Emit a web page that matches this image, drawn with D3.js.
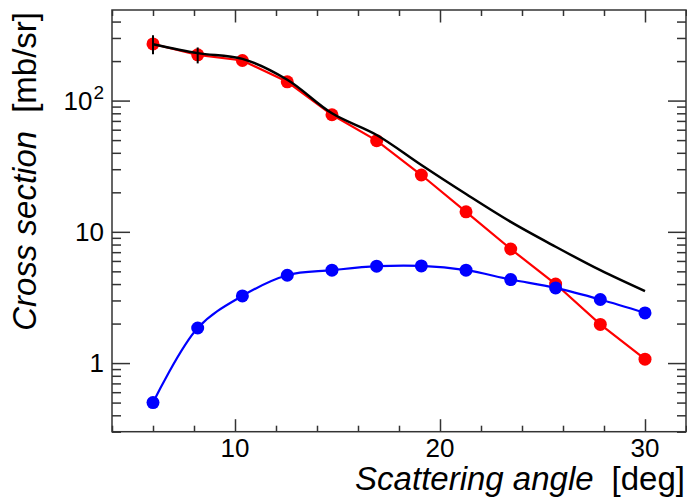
<!DOCTYPE html>
<html>
<head>
  <meta charset="utf-8">
  <script src="https://d3js.org/d3.v7.min.js"></script>
  <style>
    body { margin: 0; background: white; }
    text { font-family: "Liberation Sans", Arial, sans-serif; fill: #000; }
  </style>
</head>
<body>
  <div id="chart"></div>
<script>
  // scattering angle of every measured point [deg]
  var angle = [6.0, 8.18, 10.36, 12.55, 14.73, 16.91, 19.09, 21.27, 23.45, 25.64, 27.82, 30.0];
  // red series (with error bars on the first points)
  var redVal = [270, 223, 202, 139, 78, 49.5, 27.1, 14.2, 7.4, 4.0, 1.97, 1.07];
  var redErr = [45, 31, 0, 0, 0, 0, 0, 0, 0, 0, 0, 0];
  // blue series
  var blueVal = [0.50, 1.85, 3.25, 4.67, 5.10, 5.47, 5.50, 5.10, 4.33, 3.74, 3.05, 2.41];
  // black calculation curve
  var blackVal = [269, 230, 208, 144, 80, 54.7, 32.3, 19.4, 11.9, 7.7, 5.1, 3.53];

  var xMajor = [10, 20, 30];
  var xLabels = ["10", "20", "30"];
  var xMinor = [4, 6, 8, 12, 14, 16, 18, 22, 24, 26, 28, 32];
  var yMajor = [1, 10, 100];
  var yLabels = ["1", "10", "10^2"];
  var yMinor = [0.3, 0.4, 0.5, 0.6, 0.7, 0.8, 0.9, 2, 3, 4, 5, 6, 7, 8, 9,
                20, 30, 40, 50, 60, 70, 80, 90, 200, 300, 400];

  var W = 687, H = 502;
  var pLeft = 112, pRight = 686, pTop = 10, pBottom = 431.7;

  var svg = d3.select("#chart").append("svg")
    .attr("width", W)
    .attr("height", H);

  var x = d3.scaleLinear().domain([4, 32]).range([pLeft, pRight]);
  var y = d3.scaleLog().domain([0.3, 490]).range([pBottom, pTop]);

  var axisColor = "#333";

  // ticks on all four sides, pointing inwards
  function tickAxis(axis, t) {
    var g = svg.append("g").attr("transform", t).call(axis);
    g.select(".domain").remove();
    g.selectAll("line").attr("stroke", axisColor).attr("stroke-width", 1.5);
    g.selectAll("text").remove();
    return g;
  }
  tickAxis(d3.axisBottom(x).tickValues(xMajor).tickSize(-12.5), "translate(0," + pBottom + ")");
  tickAxis(d3.axisBottom(x).tickValues(xMinor).tickSize(-6), "translate(0," + pBottom + ")");
  tickAxis(d3.axisTop(x).tickValues(xMajor).tickSize(-12.5), "translate(0," + pTop + ")");
  tickAxis(d3.axisTop(x).tickValues(xMinor).tickSize(-6), "translate(0," + pTop + ")");
  tickAxis(d3.axisLeft(y).tickValues(yMajor).tickSize(-18), "translate(" + pLeft + ",0)");
  tickAxis(d3.axisLeft(y).tickValues(yMinor).tickSize(-9), "translate(" + pLeft + ",0)");
  tickAxis(d3.axisRight(y).tickValues(yMajor).tickSize(-18), "translate(" + pRight + ",0)");
  tickAxis(d3.axisRight(y).tickValues(yMinor).tickSize(-9), "translate(" + pRight + ",0)");

  // frame
  svg.append("rect")
    .attr("x", pLeft).attr("y", pTop)
    .attr("width", pRight - pLeft).attr("height", pBottom - pTop)
    .attr("fill", "none")
    .attr("stroke", axisColor)
    .attr("stroke-width", 1.5);

  // tick labels
  svg.selectAll(".xlab")
    .data(xMajor)
    .enter().append("text")
      .attr("class", "xlab")
      .attr("x", function(d) { return x(d); })
      .attr("y", 456.5)
      .attr("text-anchor", "middle")
      .style("font-size", "26px")
      .text(function(d, i) { return xLabels[i]; });

  yMajor.forEach(function(v, i) {
    var t = svg.append("text")
      .attr("x", 104)
      .attr("y", y(v) + 9.3)
      .attr("text-anchor", "end")
      .style("font-size", "26px");
    var parts = yLabels[i].split("^");
    t.append("tspan").text(parts[0]);
    if (parts[1]) {
      t.append("tspan").attr("dx", 1).attr("dy", -11).style("font-size", "19px").text(parts[1]);
    }
  });

  // axis titles
  var xt = svg.append("text")
    .attr("x", 685)
    .attr("y", 490)
    .attr("text-anchor", "end")
    .style("font-size", "33px");
  xt.append("tspan").style("font-style", "italic").text("Scattering angle");
  xt.append("tspan").attr("dx", 18).text("[deg]");

  var yt = svg.append("text")
    .attr("transform", "translate(36,12) rotate(-90)")
    .attr("text-anchor", "end")
    .style("font-size", "33px");
  yt.append("tspan").style("font-style", "italic").text("Cross section");
  yt.append("tspan").attr("dx", 18).text("[mb/sr]");

  var plot = svg.append("g");

  function series(vals, color, curve) {
    var line = d3.line()
      .x(function(d, i) { return x(angle[i]); })
      .y(function(d) { return y(d); })
      .curve(curve);
    plot.append("path")
      .datum(vals)
      .attr("d", line)
      .attr("fill", "none")
      .attr("stroke", color)
      .attr("stroke-width", 2.2);
    plot.append("g").selectAll("circle")
      .data(vals)
      .enter().append("circle")
        .attr("cx", function(d, i) { return x(angle[i]); })
        .attr("cy", function(d) { return y(d); })
        .attr("r", 6.5)
        .attr("fill", color);
  }

  series(redVal, "#ff0000", d3.curveLinear);

  // error bars of the red points
  plot.append("g").selectAll("line")
    .data(redVal.map(function(v, i) { return {v: v, e: redErr[i], a: angle[i]}; })
      .filter(function(d) { return d.e > 0; }))
    .enter().append("line")
      .attr("x1", function(d) { return x(d.a); })
      .attr("x2", function(d) { return x(d.a); })
      .attr("y1", function(d) { return y(d.v - d.e); })
      .attr("y2", function(d) { return y(d.v + d.e); })
      .attr("stroke", "#000")
      .attr("stroke-width", 2);

  series(blueVal, "#0000ff", d3.curveCatmullRom);

  plot.append("path")
    .datum(blackVal)
    .attr("d", d3.line()
      .x(function(d, i) { return x(angle[i]); })
      .y(function(d) { return y(d); })
      .curve(d3.curveCatmullRom))
    .attr("fill", "none")
    .attr("stroke", "#000")
    .attr("stroke-width", 2.5);
</script>
</body>
</html>
